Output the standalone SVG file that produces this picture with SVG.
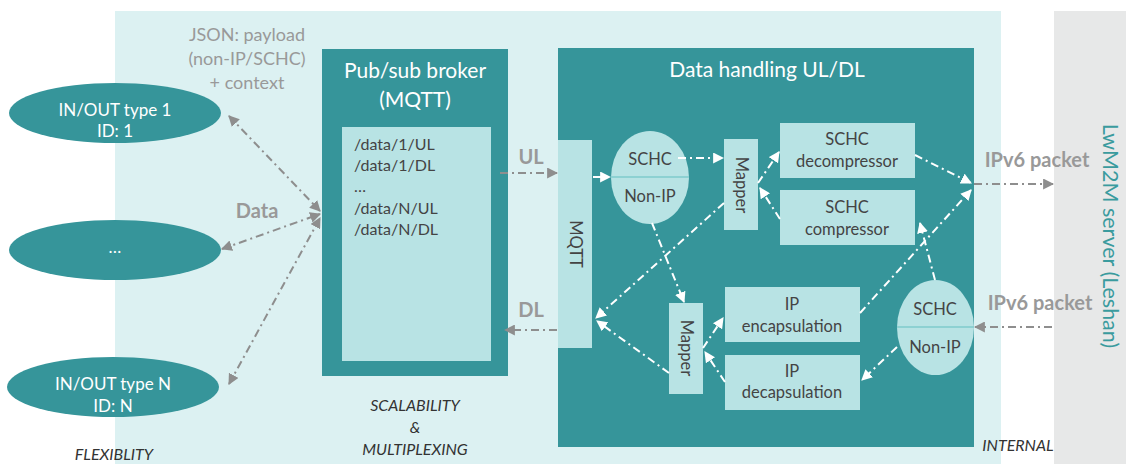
<svg xmlns="http://www.w3.org/2000/svg" width="1126" height="465" viewBox="0 0 1126 465">
<defs>
<style>
text{font-family:Lato,"Open Sans","DejaVu Sans",sans-serif;}
.dark{fill:#36959a;}
.light{fill:#b8e3e4;}
.wt{fill:#ffffff;font-size:17px;text-anchor:middle;}
.title{fill:#ffffff;font-size:21px;text-anchor:middle;}
.dt{fill:#444444;font-size:16.5px;text-anchor:middle;}
.lst{fill:#444444;font-size:16px;}
.gl{fill:#999999;font-size:20px;font-weight:bold;text-anchor:middle;}
.gn{fill:#999999;font-size:18px;text-anchor:middle;}
.it{fill:#333333;font-size:16px;font-style:italic;text-anchor:middle;}
.cg{stroke:#8e8e8e;stroke-width:2;stroke-dasharray:8 4 2 4;fill:none;}
.cw{stroke:#ffffff;stroke-width:2;stroke-dasharray:8 4 2 4;fill:none;}
</style>
<marker id="ag" viewBox="0 0 10 10" refX="9" refY="5" markerWidth="11" markerHeight="11" markerUnits="userSpaceOnUse" orient="auto-start-reverse"><path d="M0,0 L10,5 L0,10 z" fill="#8e8e8e"/></marker>
<marker id="aw" viewBox="0 0 10 10" refX="9" refY="5" markerWidth="11" markerHeight="11" markerUnits="userSpaceOnUse" orient="auto-start-reverse"><path d="M0,0 L10,5 L0,10 z" fill="#ffffff"/></marker>
</defs>
<rect width="1126" height="465" fill="#ffffff"/>
<rect x="115" y="11" width="886" height="453" fill="#dcf1f2"/>
<rect x="1054" y="11" width="72" height="453" fill="#e7e8e8"/>

<g id="json-label">
<text class="gn" x="247" y="41">JSON: payload</text>
<text class="gn" x="247" y="65">(non-IP/SCHC)</text>
<text class="gn" x="247" y="89">+ context</text>
</g>
<text class="gl" x="257" y="218">Data</text>

<g id="in-out-1">
<ellipse class="dark" cx="115" cy="113" rx="106" ry="30"/>
<text class="wt" x="115" y="116">IN/OUT type 1</text>
<text class="wt" x="115" y="137">ID: 1</text>
</g>
<g id="in-out-dots">
<ellipse class="dark" cx="115" cy="250" rx="106" ry="30"/>
<text class="wt" x="115" y="253">…</text>
</g>
<g id="in-out-n">
<ellipse class="dark" cx="113" cy="387" rx="106" ry="30"/>
<text class="wt" x="113" y="390">IN/OUT type N</text>
<text class="wt" x="113" y="412">ID: N</text>
</g>
<text class="it" x="114" y="460">FLEXIBLITY</text>

<g id="broker">
<rect class="dark" x="322" y="49" width="186" height="327"/>
<text class="title" x="415" y="78">Pub/sub broker</text>
<text class="title" x="415" y="107">(MQTT)</text>
<rect class="light" x="342" y="127" width="149" height="234"/>
<text class="lst" x="354" y="150">/data/1/UL</text>
<text class="lst" x="354" y="171">/data/1/DL</text>
<text class="lst" x="354" y="192">…</text>
<text class="lst" x="354" y="214">/data/N/UL</text>
<text class="lst" x="354" y="235">/data/N/DL</text>
</g>
<g id="scalability">
<text class="it" x="415" y="411">SCALABILITY</text>
<text class="it" x="415" y="433">&amp;</text>
<text class="it" x="415" y="455">MULTIPLEXING</text>
</g>
<text class="gl" x="531" y="164">UL</text>
<text class="gl" x="531" y="317">DL</text>

<g id="data-handling">
<rect class="dark" x="558" y="48" width="416" height="399"/>
<text class="title" x="767" y="77">Data handling UL/DL</text>
</g>
<g id="mqtt">
<rect class="light" x="558" y="140" width="34" height="208"/>
<text class="dt" transform="translate(570,244) rotate(90)">MQTT</text>
</g>
<g id="schc-nonip-1">
<ellipse class="light" cx="650" cy="177.5" rx="39" ry="46.5"/>
<line x1="611" y1="177" x2="689" y2="177" stroke="#7fcbcd" stroke-width="1.5"/>
<text class="dt" x="650" y="165">SCHC</text>
<text class="dt" x="650" y="202">Non-IP</text>
</g>
<g id="mapper-1">
<rect class="light" x="724" y="139" width="34" height="91"/>
<text class="dt" transform="translate(736,185) rotate(90)">Mapper</text>
</g>
<g id="schc-decompressor">
<rect class="light" x="780" y="123" width="135" height="55"/>
<text class="dt" x="847" y="145">SCHC</text>
<text class="dt" x="847" y="167">decompressor</text>
</g>
<g id="schc-compressor">
<rect class="light" x="780" y="190" width="135" height="55"/>
<text class="dt" x="847" y="213">SCHC</text>
<text class="dt" x="847" y="235">compressor</text>
</g>
<g id="mapper-2">
<rect class="light" x="669" y="303" width="34" height="91"/>
<text class="dt" transform="translate(681,348) rotate(90)">Mapper</text>
</g>
<g id="ip-encapsulation">
<rect class="light" x="725" y="287" width="135" height="55"/>
<text class="dt" x="792" y="310">IP</text>
<text class="dt" x="792" y="332">encapsulation</text>
</g>
<g id="ip-decapsulation">
<rect class="light" x="725" y="355" width="135" height="55"/>
<text class="dt" x="792" y="377">IP</text>
<text class="dt" x="792" y="398">decapsulation</text>
</g>
<g id="schc-nonip-2">
<ellipse class="light" cx="935.5" cy="327.5" rx="38.5" ry="47.5"/>
<line x1="897" y1="327" x2="974" y2="327" stroke="#7fcbcd" stroke-width="1.5"/>
<text class="dt" x="935" y="315">SCHC</text>
<text class="dt" x="935" y="353">Non-IP</text>
</g>
<text class="it" x="1018" y="451">INTERNAL</text>

<g id="lwm2m-server">
<text transform="translate(1103,236) rotate(90)" style="fill:#3a9b9e;font-size:21.5px;text-anchor:middle;">LwM2M server (Leshan)</text>
</g>
<text class="gl" x="1037" y="167">IPv6 packet</text>
<text class="gl" x="1040" y="310">IPv6 packet</text>

<g id="connectors">
<line class="cg" x1="229" y1="116" x2="320" y2="211" marker-start="url(#ag)" marker-end="url(#ag)"/>
<line class="cg" x1="222" y1="249" x2="320" y2="214" marker-start="url(#ag)" marker-end="url(#ag)"/>
<line class="cg" x1="229" y1="384" x2="320" y2="218" marker-start="url(#ag)" marker-end="url(#ag)"/>
<line class="cg" x1="500" y1="173" x2="557" y2="173" marker-end="url(#ag)"/>
<line class="cg" x1="557" y1="330" x2="505" y2="330" marker-end="url(#ag)"/>
<line class="cg" x1="974" y1="184" x2="1053" y2="184" marker-end="url(#ag)"/>
<line class="cg" x1="1052" y1="327" x2="975" y2="327" marker-end="url(#ag)"/>

<line class="cw" x1="593" y1="177" x2="610" y2="177" marker-end="url(#aw)"/>
<line class="cw" x1="678" y1="158" x2="723" y2="158" marker-end="url(#aw)"/>
<line class="cw" x1="758" y1="183" x2="779" y2="152" marker-end="url(#aw)"/>
<line class="cw" x1="780" y1="219" x2="760" y2="188" marker-end="url(#aw)"/>
<line class="cw" x1="915" y1="155" x2="971" y2="183" marker-end="url(#aw)"/>
<line class="cw" x1="935" y1="280" x2="920" y2="223" marker-end="url(#aw)"/>
<line class="cw" x1="860" y1="313" x2="971" y2="190" marker-end="url(#aw)"/>
<line class="cw" x1="724" y1="203" x2="596" y2="318" marker-end="url(#aw)"/>
<line class="cw" x1="652" y1="223" x2="684" y2="302" marker-end="url(#aw)"/>
<line class="cw" x1="669" y1="373" x2="597" y2="321" marker-end="url(#aw)"/>
<line class="cw" x1="703" y1="348" x2="723" y2="318" marker-end="url(#aw)"/>
<line class="cw" x1="725" y1="382" x2="705" y2="352" marker-end="url(#aw)"/>
<line class="cw" x1="897" y1="347" x2="862" y2="380" marker-end="url(#aw)"/>
</g>
</svg>
